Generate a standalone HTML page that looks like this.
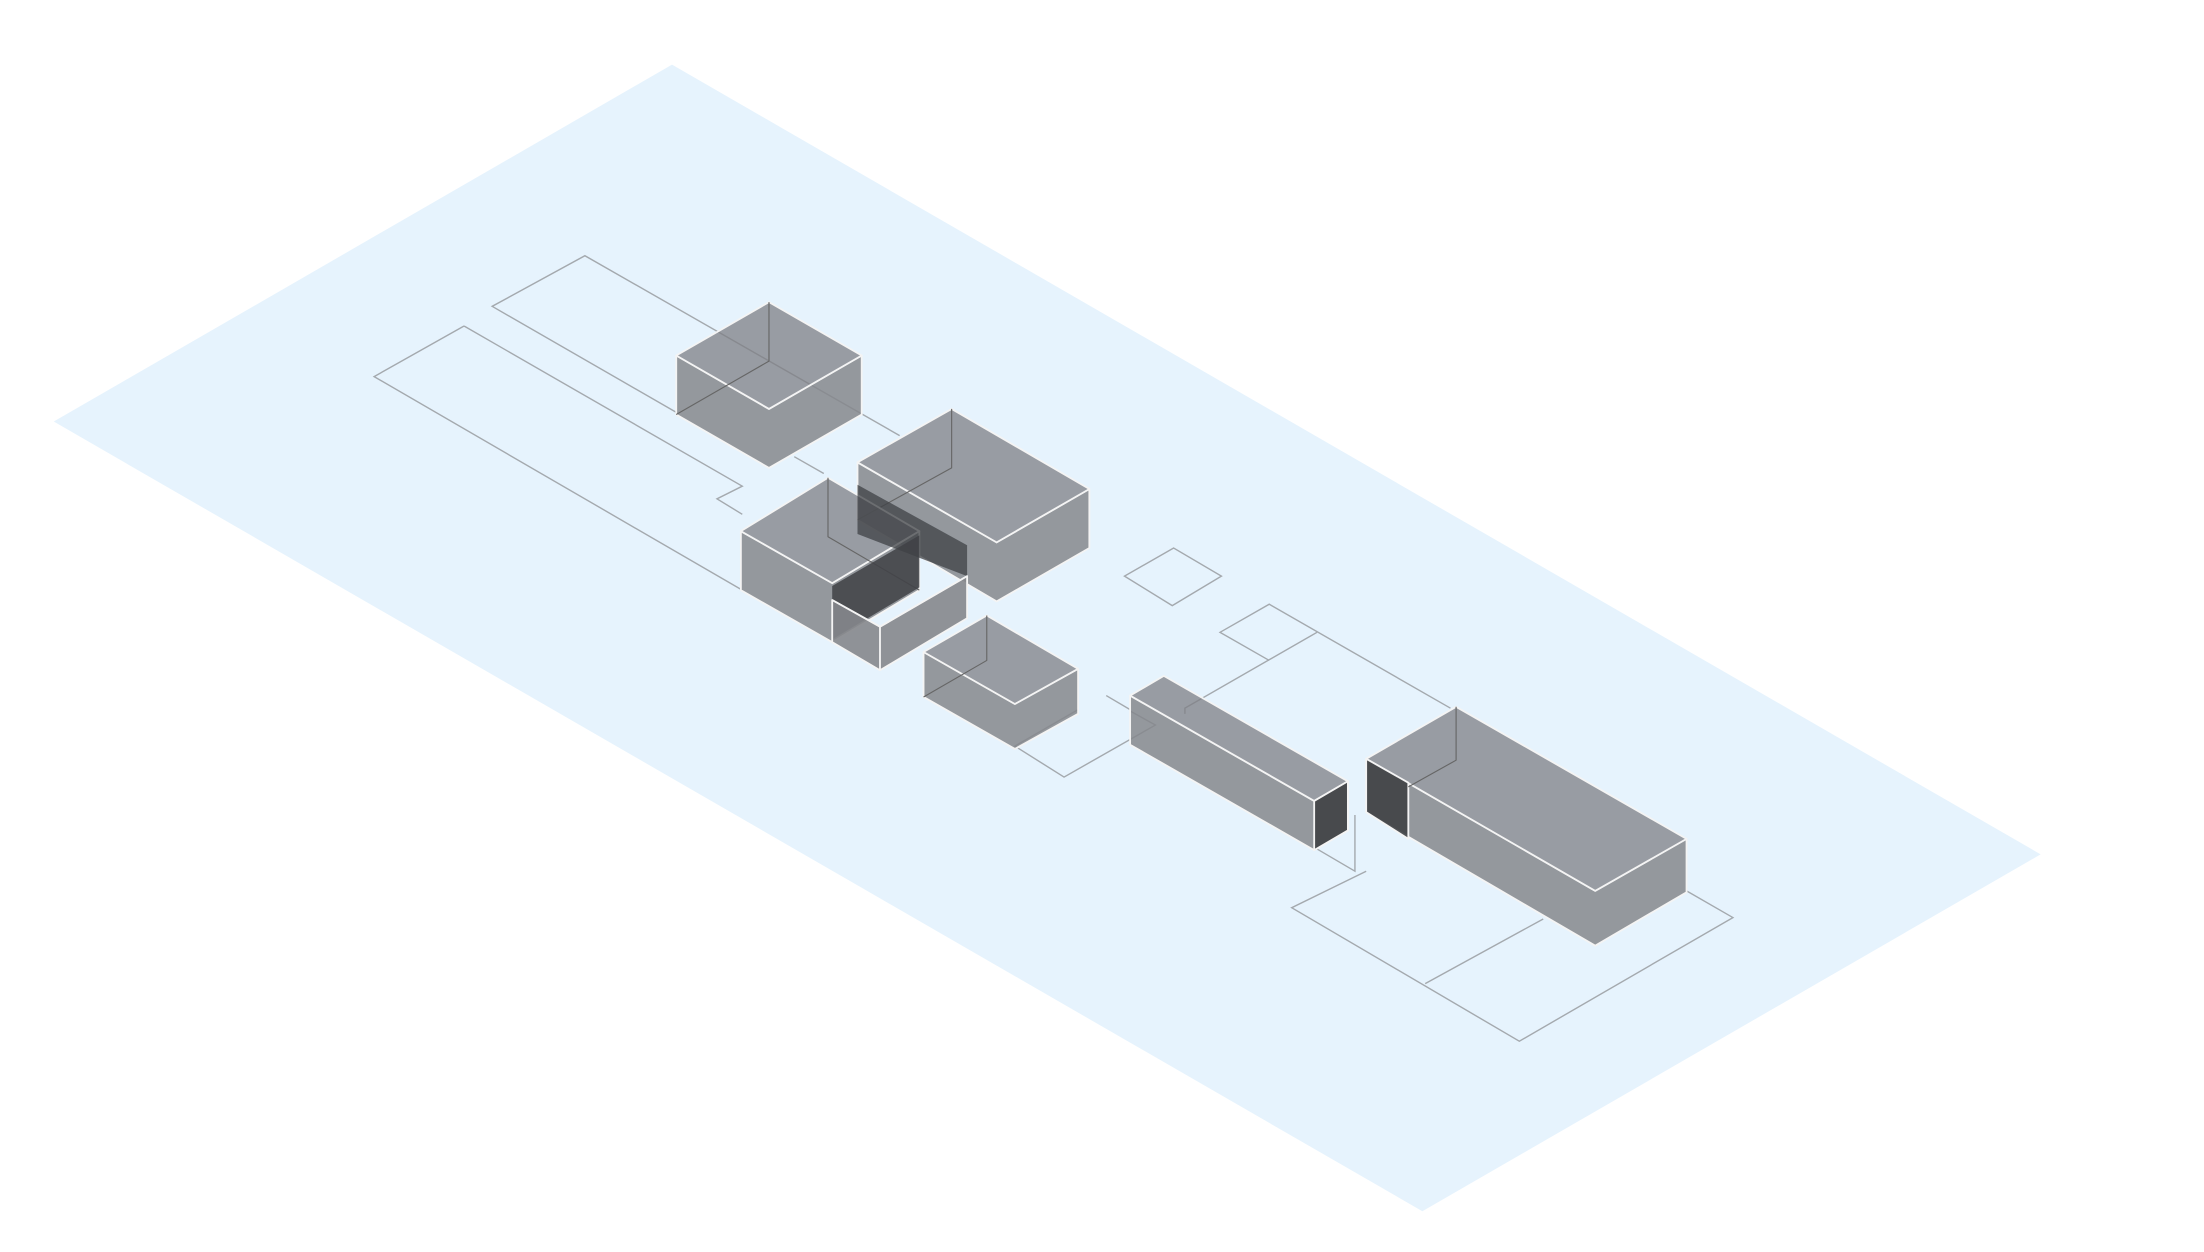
<!DOCTYPE html>
<html><head><meta charset="utf-8"><style>
html,body{margin:0;padding:0;background:#fff;}
svg{display:block;}
</style></head><body>
<svg width="2204" height="1252" viewBox="0 0 1568 891" xmlns="http://www.w3.org/2000/svg">
<rect width="1568" height="891" fill="#fff"/>
<polygon points="478,46 38,300 1012,862 1452,608" fill="#e6f3fd"/>
<g fill="none" stroke="#a4a9ae" stroke-width="1">
<polyline points="640,310 416,182 350,218 482,294"/>
<polyline points="565,325 586,337"/>
<polyline points="330,232 266,268 528,420"/>
<polyline points="330,232 528,346 510,355 528,366"/>
<polygon points="835,390 800,410 834,431 869,410"/>
<polyline points="903,470 868,450 903,430 1032,504"/>
<polyline points="937,450 843,504 843,508"/>
<polyline points="767,505 722,531 757,553 822,516 804,506"/>
<polyline points="787,495 804,505"/>
<polyline points="972,620 919,646 1081,741 1233,653 1200,634"/>
<polyline points="1014,700 1098,654"/>
<polyline points="935,603 964,620 964,580"/>
</g>
<g stroke="#f4f4f4" stroke-width="1.3" stroke-linejoin="round">
<!-- Box A -->
<polygon points="481,253 547,291 613,253 613,295 547,333 481,295" fill="#85878c" fill-opacity="0.85"/>
<polygon points="547,215 481,253 547,291 613,253" fill="#7d7f84" fill-opacity="0.75"/>
<polyline points="547,215 547,257 481,295 M547,257 613,295" fill="none" stroke="#666" stroke-width="0.8"/>
<!-- Box B -->
<polygon points="610,329 709,386 775,348 775,390 709,428 610,370" fill="#85878c" fill-opacity="0.85"/>
<polygon points="677,291 610,329 709,386 775,348" fill="#7d7f84" fill-opacity="0.75"/>
<polyline points="677,291 677,333 610,370 M677,333 775,390" fill="none" stroke="#666" stroke-width="0.8"/>
<!-- Box C -->
<polygon points="527,378 592,415 654,378 654,420 592,457 527,420" fill="#85878c" fill-opacity="0.85"/>
<polygon points="589,340 527,378 592,415 654,378" fill="#7d7f84" fill-opacity="0.75"/>
<polyline points="589,340 589,382 654,420" fill="none" stroke="#666" stroke-width="0.8"/>
<polygon points="610,345 610,380 688,410 688,388" fill="#3f4145" fill-opacity="0.75" stroke="none"/>
<!-- Box C2 -->
<polygon points="592,417 654,381 654,418 592,455" fill="#3f4145" fill-opacity="0.85" stroke="none"/>
<polygon points="592,427 626,446 688,410 688,440 626,477 592,457" fill="#85878c" fill-opacity="0.9"/>
<polyline points="592,427 626,446 688,410" fill="none"/>
<polyline points="626,446 626,477" fill="none"/>
<!-- Box D -->
<polygon points="657,464 722,501 767,476 767,508 722,533 657,496" fill="#85878c" fill-opacity="0.85"/>
<polygon points="702,438 657,464 722,501 767,476" fill="#7d7f84" fill-opacity="0.75"/>
<polyline points="702,438 702,470 657,496 M702,470 767,508" fill="none" stroke="#666" stroke-width="0.8"/>
<!-- Box E -->
<polygon points="804,495 935,570 959,556 959,591 935,605 804,530" fill="#85878c" fill-opacity="0.85"/>
<polygon points="828,481 804,495 935,570 959,556" fill="#7d7f84" fill-opacity="0.75"/>
<polygon points="935,570 959,556 959,591 935,605" fill="#3f4145" fill-opacity="0.9"/>
<!-- Box F -->
<polygon points="972,540 1135,634 1200,597 1200,635 1135,673 972,578" fill="#85878c" fill-opacity="0.85"/>
<polygon points="1036,503 972,540 1135,634 1200,597" fill="#7d7f84" fill-opacity="0.75"/>
<polygon points="972,540 1002,557 1002,597 972,578" fill="#3f4145" fill-opacity="0.9"/>
<polyline points="1036,503 1036,541 1002,560 M1036,541 1200,635" fill="none" stroke="#666" stroke-width="0.8"/>
</g>
</svg>
</body></html>
